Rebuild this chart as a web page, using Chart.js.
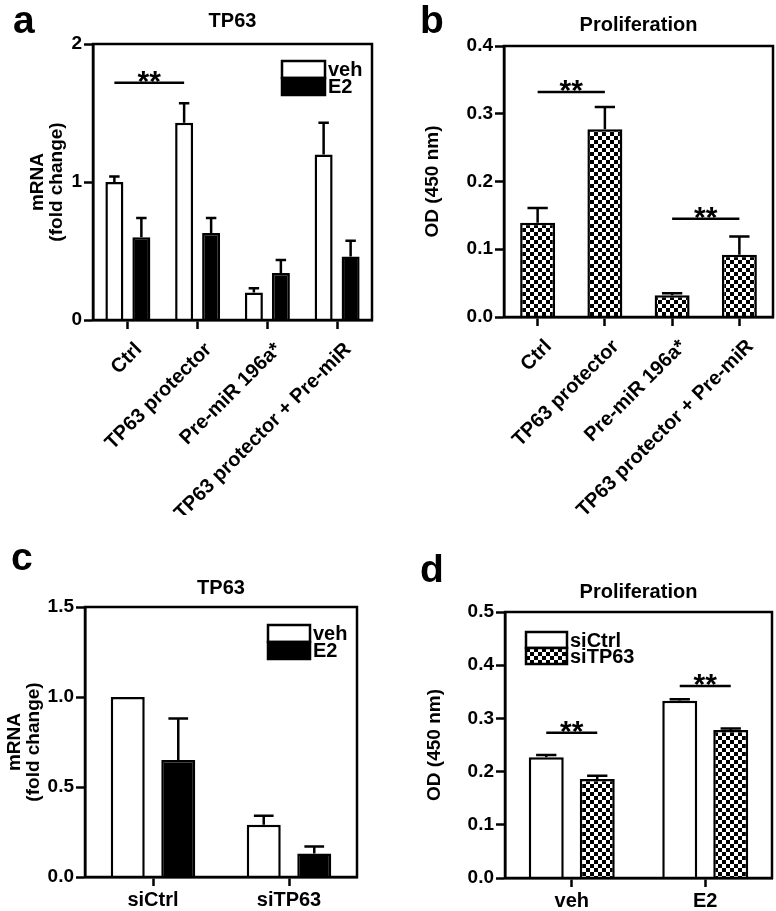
<!DOCTYPE html>
<html>
<head>
<meta charset="utf-8">
<script src="https://cdn.jsdelivr.net/npm/chart.js@4.4.0/dist/chart.umd.min.js"></script>
<style>
body { margin: 0; background: #fff; }
#fig { position: relative; width: 776px; height: 911px; overflow: hidden; font-family: "Liberation Sans", Arial, sans-serif; }
.panel { position: absolute; }
.letter { position: absolute; font-size: 39px; font-weight: bold; line-height: 38px; z-index: 2; }
</style>
</head>
<body>
<div id="fig">
  <div class="panel" style="left:0;top:0;width:390px;height:515px"><canvas id="ca"></canvas></div>
  <div class="panel" style="left:390px;top:0;width:386px;height:515px"><canvas id="cb"></canvas></div>
  <div class="panel" style="left:0;top:520px;width:390px;height:391px"><canvas id="cc"></canvas></div>
  <div class="panel" style="left:390px;top:520px;width:386px;height:391px"><canvas id="cd"></canvas></div>
  <div class="letter" style="left:13px;top:1px">a</div>
  <div class="letter" style="left:420px;top:1px">b</div>
  <div class="letter" style="left:11px;top:538px">c</div>
  <div class="letter" style="left:420px;top:550px">d</div>
</div>
<script>
// panel a - TP63 mRNA
var catsA = ['Ctrl', 'TP63 protector', 'Pre-miR 196a*', 'TP63 protector + Pre-miR'];
var vehA = [1.00, 1.43, 0.20, 1.20];
var vehErrA = [0.04, 0.14, 0.03, 0.23];
var e2A = [0.60, 0.63, 0.34, 0.46];
var e2ErrA = [0.14, 0.11, 0.095, 0.115];
var ticksA = [0, 1, 2];

// panel b - proliferation
var catsB = ['Ctrl', 'TP63 protector', 'Pre-miR 196a*', 'TP63 protector + Pre-miR'];
var odB = [0.139, 0.277, 0.032, 0.092];
var odErrB = [0.022, 0.033, 0.003, 0.027];
var ticksB = [0, 0.1, 0.2, 0.3, 0.4];

// panel c - TP63 mRNA after siRNA
var catsC = ['siCtrl', 'siTP63'];
var vehC = [1.00, 0.29];
var vehErrC = [0, 0.05];
var e2C = [0.65, 0.13];
var e2ErrC = [0.23, 0.04];
var ticksC = [0, 0.5, 1.0, 1.5];

// panel d - proliferation after siRNA
var catsD = ['veh', 'E2'];
var siCtrlD = [0.227, 0.333];
var siCtrlErrD = [0.004, 0.003];
var siTP63D = [0.186, 0.278];
var siTP63ErrD = [0.006, 0.003];
var ticksD = [0, 0.1, 0.2, 0.3, 0.4, 0.5];

// significance: [dataset, index] -> [dataset, index] at height y
var sigA = [{from: [0, 0], to: [0, 1], y: 1.72}];
var sigB = [{from: [0, 0], to: [0, 1], y: 0.332}, {from: [0, 2], to: [0, 3], y: 0.145}];
var sigD = [{from: [0, 0], to: [1, 0], y: 0.273}, {from: [0, 1], to: [1, 1], y: 0.361}];

var FONT = '"Liberation Sans", Arial, sans-serif';
Chart.defaults.font.family = FONT;
Chart.defaults.font.weight = 'bold';
Chart.defaults.color = '#000';
Chart.defaults.animation = false;

var LW = 2.5;

function checker(id) {
  var c = document.createElement('canvas');
  c.width = 8; c.height = 8;
  var g = c.getContext('2d');
  g.fillStyle = '#fff'; g.fillRect(0, 0, 8, 8);
  g.fillStyle = '#000'; g.fillRect(0, 0, 4, 4); g.fillRect(4, 4, 4, 4);
  return document.getElementById(id).getContext('2d').createPattern(c, 'repeat');
}

var framePlugin = {
  id: 'frame',
  afterDraw: function(chart) {
    var a = chart.chartArea, ctx = chart.ctx;
    ctx.save();
    ctx.strokeStyle = '#000';
    ctx.lineWidth = LW;
    ctx.strokeRect(a.left, a.top, a.right - a.left, a.bottom - a.top);
    ctx.restore();
  }
};

var errorPlugin = {
  id: 'errbars',
  afterDatasetsDraw: function(chart) {
    var ctx = chart.ctx, y = chart.scales.y;
    ctx.save();
    ctx.strokeStyle = '#000';
    ctx.lineWidth = LW;
    chart.data.datasets.forEach(function(ds, i) {
      if (!ds.errors) return;
      chart.getDatasetMeta(i).data.forEach(function(bar, j) {
        var e = ds.errors[j];
        if (!e) return;
        var top = y.getPixelForValue(ds.data[j] + e);
        var cap = bar.width * 0.29;
        ctx.beginPath();
        ctx.moveTo(bar.x, bar.y);
        ctx.lineTo(bar.x, top);
        ctx.moveTo(bar.x - cap, top);
        ctx.lineTo(bar.x + cap, top);
        ctx.stroke();
      });
    });
    ctx.restore();
  }
};

function sigPlugin(items) {
  return {
    id: 'sig',
    afterDraw: function(chart) {
      var ctx = chart.ctx, y = chart.scales.y;
      ctx.save();
      ctx.strokeStyle = '#000';
      ctx.fillStyle = '#000';
      ctx.lineWidth = LW;
      ctx.font = 'bold 30px ' + FONT;
      ctx.textAlign = 'center';
      ctx.textBaseline = 'alphabetic';
      items.forEach(function(s) {
        var x1 = chart.getDatasetMeta(s.from[0]).data[s.from[1]].x;
        var x2 = chart.getDatasetMeta(s.to[0]).data[s.to[1]].x;
        var py = y.getPixelForValue(s.y);
        ctx.beginPath();
        ctx.moveTo(x1, py);
        ctx.lineTo(x2, py);
        ctx.stroke();
        ctx.fillText('**', (x1 + x2) / 2, py + 8);
      });
      ctx.restore();
    }
  };
}

function legendPlugin(opt) {
  return {
    id: 'boxlegend',
    afterDraw: function(chart) {
      if (!opt) return;
      var a = chart.chartArea, ctx = chart.ctx;
      ctx.save();
      ctx.font = 'bold 20px ' + FONT;
      ctx.textBaseline = 'middle';
      ctx.lineWidth = LW;
      ctx.strokeStyle = '#000';
      chart.data.datasets.forEach(function(ds, i) {
        var x = a.left + opt.x, y = a.top + opt.y + i * opt.h;
        ctx.fillStyle = ds.backgroundColor;
        ctx.fillRect(x, y, opt.w, opt.h);
        ctx.strokeRect(x, y, opt.w, opt.h);
        ctx.fillStyle = '#000';
        ctx.fillText(ds.label, x + opt.w + 3, y + opt.h / 2 + 1);
      });
      ctx.restore();
    }
  };
}

function bars(label, data, errors, fill, barPct, catPct) {
  return {
    label: label, data: data, errors: errors,
    backgroundColor: fill, borderColor: '#000', borderWidth: LW, borderSkipped: 'start',
    barPercentage: barPct, categoryPercentage: catPct
  };
}

function makeChart(id, cfg) {
  return new Chart(document.getElementById(id), {
    type: 'bar',
    data: { labels: cfg.labels, datasets: cfg.datasets },
    options: {
      responsive: true,
      maintainAspectRatio: false,
      layout: { padding: { left: 0, top: 0, right: cfg.padRight, bottom: 0 } },
      plugins: {
        legend: { display: false },
        tooltip: { enabled: false },
        title: {
          display: true, text: cfg.title, fullSize: false, color: '#000',
          font: { size: 20, weight: 'bold', lineHeight: 1.2 },
          padding: cfg.titlePad
        }
      },
      scales: {
        x: {
          offset: true,
          grid: { display: true, drawOnChartArea: false, offset: false, tickLength: 9, tickWidth: LW, tickColor: '#000' },
          border: { display: true, color: '#000', width: LW },
          ticks: { font: { size: 20, weight: 'bold' }, color: '#000', autoSkip: false,
                   minRotation: cfg.rotate, maxRotation: cfg.rotate,
                   padding: cfg.rotate ? 9 : 2, labelOffset: cfg.rotate ? 11 : 0 },
          afterFit: function(s) { s.height = cfg.xHeight; }
        },
        y: {
          min: cfg.ticks[0], max: cfg.ticks[cfg.ticks.length - 1],
          grid: { display: true, drawOnChartArea: false, tickLength: 9, tickWidth: LW, tickColor: '#000' },
          border: { display: true, color: '#000', width: LW },
          ticks: { font: { size: 19, weight: 'bold' }, color: '#000', padding: 2,
                   callback: function(v) { return v.toFixed(cfg.dec); } },
          afterBuildTicks: function(s) { s.ticks = cfg.ticks.map(function(v) { return { value: v }; }); },
          title: { display: true, text: cfg.yTitle, color: '#000',
                   font: { size: 19, weight: 'bold', lineHeight: 1 }, padding: { top: cfg.yTitlePad, bottom: 0 } },
          afterFit: function(s) { s.width = cfg.yWidth; }
        }
      }
    },
    plugins: [framePlugin, errorPlugin, sigPlugin(cfg.sig || []), legendPlugin(cfg.legend)]
  });
}

var checkB = checker('cb');
var checkD = checker('cd');

makeChart('ca', {
  labels: catsA,
  datasets: [bars('veh', vehA, vehErrA, '#fff', 0.667, 0.774), bars('E2', e2A, e2ErrA, '#000', 0.667, 0.774)],
  ticks: ticksA, dec: 0, title: 'TP63', titlePad: { top: 9, bottom: 11 },
  yTitle: ['mRNA', '(fold change)'], yTitlePad: 28, yWidth: 93, xHeight: 195, padRight: 18, rotate: 45,
  legend: { x: 189, y: 17, w: 43, h: 17 }, sig: sigA
});

makeChart('cb', {
  labels: catsB,
  datasets: [bars('OD', odB, odErrB, checkB, 0.52, 1)],
  ticks: ticksB, dec: 1, title: 'Proliferation', titlePad: { top: 13, bottom: 9 },
  yTitle: 'OD (450 nm)', yTitlePad: 33, yWidth: 114, xHeight: 198, padRight: 3, rotate: 45,
  legend: null, sig: sigB
});

makeChart('cc', {
  labels: catsC,
  datasets: [bars('veh', vehC, vehErrC, '#fff', 0.673, 0.743), bars('E2', e2C, e2ErrC, '#000', 0.673, 0.743)],
  ticks: ticksC, dec: 1, title: 'TP63', titlePad: { top: 56, bottom: 7 },
  yTitle: ['mRNA', '(fold change)'], yTitlePad: 5, yWidth: 85, xHeight: 34, padRight: 33, rotate: 0,
  legend: { x: 183, y: 18, w: 42, h: 17 }, sig: []
});

makeChart('cd', {
  labels: catsD,
  datasets: [bars('siCtrl', siCtrlD, siCtrlErrD, '#fff', 0.686, 0.764), bars('siTP63', siTP63D, siTP63ErrD, checkD, 0.686, 0.764)],
  ticks: ticksD, dec: 1, title: 'Proliferation', titlePad: { top: 60, bottom: 8 },
  yTitle: 'OD (450 nm)', yTitlePad: 35, yWidth: 115, xHeight: 33, padRight: 4, rotate: 0,
  legend: { x: 21, y: 20, w: 41, h: 16 }, sig: sigD
});
</script>
</body>
</html>
